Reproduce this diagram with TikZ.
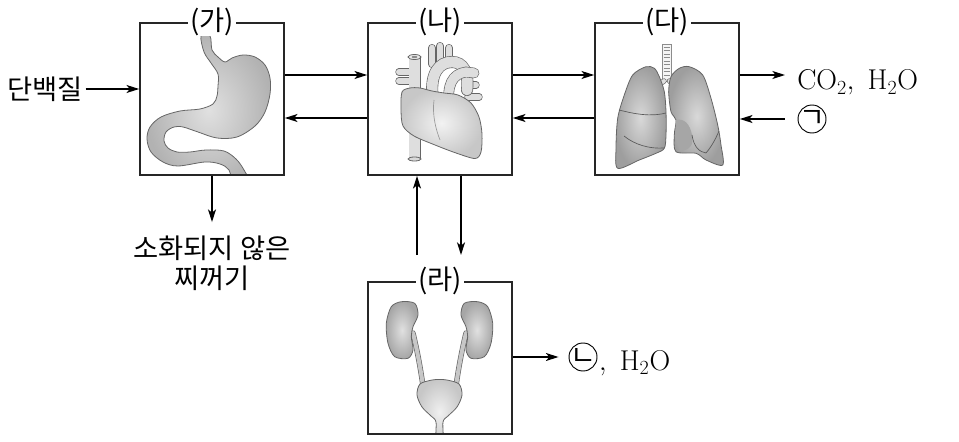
\documentclass[tikz,border=0pt]{standalone}
\usepackage{fontspec}
\newfontfamily\kr{Noto Sans CJK KR}
\usetikzlibrary{arrows.meta}

\tikzset{
  organbox/.style={draw=black!85, line width=1.3pt, minimum width=108pt, minimum height=114.3pt, inner sep=0pt},
  boxlbl/.style={fill=white, inner xsep=2pt, inner ysep=0pt, font=\kr\fontsize{20.5}{22.5}\selectfont},
  txt/.style={inner sep=2pt, font=\kr\fontsize{20.5}{22.5}\selectfont},
  chem/.style={inner sep=0pt, font=\fontsize{21.5}{24}\selectfont},
  circ/.style={draw, circle, line width=0.7pt, minimum size=21pt, inner sep=0pt},
  jamo/.style={inner sep=0pt, font=\kr\fontsize{21}{21}\selectfont},
  arr/.style={line width=1pt, -{Stealth[length=9.5pt,width=6pt,inset=2.5pt]}},
  organ/.style={draw=black!60, line width=0.6pt},
  tube/.style={draw=black!60, line width=0.5pt, double=black!13, double distance=#1, line cap=round}
}

\begin{document}
\begin{tikzpicture}[x=0.75pt,y=0.75pt,yscale=-1,xscale=1]
\useasboundingbox (0,0) rectangle (959,442);

%Shape: Stomach
\begin{scope}
\clip (140,22.7) rectangle (284,175);
\draw[organ, inner color=black!12, outer color=black!30] plot[smooth cycle, tension=0.55] coordinates {
  (201,36) (204,52) (211,63) (218,74) (218,86) (217,96) (213,104) (200,109) (180,111)
  (161,117) (150,127) (147,139) (151,152) (163,162) (178,166) (205,162) (220,164)
  (229,170) (234,184) (250,184) (244,170) (236,159) (224,151) (206,150) (190,152)
  (177,152) (168,148) (164,141) (166,132) (174,127) (183,127) (198,132) (217,138)
  (237,137) (255,126) (265,112) (270,94) (270,78) (265,65) (255,57) (243,55)
  (232,58) (225,62) (218,57) (212,50) (210,36)};
\end{scope}

%Shape: Heart
\draw[tube=4.5pt] (399,72) -- (411,72);
\draw[tube=4.5pt] (399,81) -- (411,81);
\draw[tube=4.5pt] (466,85) -- (476,85);
\draw[tube=4.5pt] (468,97) -- (479,97);
\draw[tube=5pt] (432,64) -- (432,48);
\draw[tube=5pt] (440,62) -- (440,46);
\draw[tube=5pt] (449,64) -- (449,48);
\draw[tube=8pt] (433,100) .. controls (429,72) and (440,62) .. (452,62) .. controls (463,62) and (469,72) .. (467,90);
\draw[tube=8pt, line cap=butt] (414.5,100) -- (414.5,57);
\draw[organ, fill=black!8] (414.5,57) ellipse [x radius=6.5, y radius=2.5];
\fill[black!45] (414.5,57) ellipse [x radius=3, y radius=1.2];
\draw[tube=7pt] (449,106) .. controls (447,85) and (452,74) .. (466,72) -- (474,73);
\draw[tube=8pt, line cap=butt] (414.5,125) -- (414.5,159);
\draw[organ, fill=black!15] (414.5,159) ellipse [x radius=6.5, y radius=2];
\draw[organ, inner color=black!5, outer color=black!22] plot[smooth cycle] coordinates {
  (402,92) (401,110) (403,126) (414,136) (435,145) (456,153) (475,158.5) (481,152)
  (482,134) (479,117) (471,103) (458,95) (444,93) (432,91) (420,88) (410,88)};
\draw[black!40, line width=0.5pt] (434,100) .. controls (432,115) and (436,130) .. (440,140);

%Shape: Lungs
\draw[black!45, line width=0.5pt, fill=black!4] (662.5,44) rectangle (671,81);
\foreach \ty in {47,50.5,...,78} \draw[black!45, line width=0.7pt] (663.5,\ty) -- (670,\ty);
\draw[tube=3pt] (664,81) -- (658,85);
\draw[tube=3pt] (669.5,81) -- (675.5,85);
\draw[organ, inner color=black!15, outer color=black!38] plot[smooth cycle] coordinates {
  (646,66.7) (654.3,68.3) (659.3,76.7) (664.3,91.7) (666,111.7) (666,135) (664.3,148.3)
  (656,153.3) (639.3,160) (617.7,168.3) (616,148.3) (617.7,118.3) (624.3,95) (632.7,75)};
\draw[organ, inner color=black!15, outer color=black!38] plot[smooth cycle] coordinates {
  (679.3,68.3) (689.3,66.7) (702.7,75) (711,98.3) (717.7,125) (721,145) (722.7,165)
  (706,160) (696,153.3) (676,151.7) (674.3,135) (676,120) (671,111.7) (668.7,91.7) (671,76.7)};
\fill[black!35] (676,120) .. controls (684,118) and (690,124) .. (692,135) .. controls (694,145) and (690,150) .. (680,151) .. controls (675,140) and (675,128) .. (676,120);
\draw[black!65, line width=0.5pt] (619,110) .. controls (635,114) and (650,117) .. (666,113);
\draw[black!65, line width=0.5pt] (624,136) .. controls (635,145) and (650,149) .. (664,148);
\draw[black!65, line width=0.5pt] (692,135) .. controls (694,148) and (700,152) .. (706,153) .. controls (712,146) and (716,138) .. (719,131);

%Shape: Kidneys
\begin{scope}
\clip (368,281.7) rectangle (512,434.3);
\draw[tube=3pt, double=black!22] (413,333) .. controls (417,350) and (420,365) .. (423,386);
\draw[tube=3pt, double=black!22] (466,333) .. controls (462,350) and (459,365) .. (456,386);
\draw[organ, inner color=black!12, outer color=black!35] plot[smooth cycle] coordinates {
  (401.3,301.7) (414.7,303.3) (418,315) (413,326.7) (411.3,336.7) (413,350) (408,358.3)
  (394.7,356.7) (388,343.3) (386.3,323.3) (391.3,306.7)};
\draw[organ, inner color=black!12, outer color=black!35] plot[smooth cycle] coordinates {
  (477.7,301.7) (464.3,303.3) (461,315) (466,326.7) (467.7,336.7) (466,350) (471,358.3)
  (484.3,356.7) (491,343.3) (492.7,323.3) (487.7,306.7)};
\draw[organ, inner color=black!6, outer color=black!22] plot[smooth cycle, tension=0.5] coordinates {
  (420,384) (432,380) (439.5,379.5) (447,380) (459,384) (462,395) (457,407) (448,416)
  (443,422) (443,442) (436,442) (436,422) (431,416) (422,407) (417,395)};
\end{scope}

%Shape: Rectangle (boxes)
\node[organbox] (ga) at (212,98.85) {};
\node[organbox] (na) at (440,98.85) {};
\node[organbox] (da) at (667,98.85) {};
\node[organbox] (ra) at (440,358) {};

% Box titles
\node[boxlbl] (gat) at (ga.north) {(가)};
\node[boxlbl] (nat) at (na.north) {(나)};
\node[boxlbl] (dat) at (da.north) {(다)};
\node[boxlbl] (rat) at (ra.north) {(라)};

% Text Node
\node[txt] (dan) at (45,89) {단백질};
\node[txt, align=center, inner ysep=10pt] (sohwa) at (212,263) {소화되지 않은\\[0pt]찌꺼기};
\node[chem, anchor=base west, inner xsep=9pt] (co) at (785,90) {$\mathrm{CO_2,\ H_2O}$};
\node[circ] (gi) at (812,119) {};
\node[jamo] (gik) at (gi) {ㄱ};
\node[circ] (ni) at (583,357) {};
\node[jamo] (nik) at (ni) {ㄴ};
\node[chem, anchor=base west, inner xsep=1pt] (nih) at (ni.east |- 0,370) {$\mathrm{,\ H_2O}$};

%Straight Lines (arrows)
\draw[arr] (dan) -- (ga.west |- dan);
\draw[arr] (ga.east |- 0,75) -- (na.west |- 0,75);
\draw[arr] (na.west |- 0,118) -- (ga.east |- 0,118);
\draw[arr] (na.east |- 0,75) -- (da.west |- 0,75);
\draw[arr] (da.west |- 0,118) -- (na.east |- 0,118);
\draw[arr] (da.east |- 0,75) -- (co.west |- 0,75);
\draw[arr] ([xshift=-9.75pt]gi.west) -- (da.east |- gi);
\draw[arr] (ga.south) -- (sohwa.north);
\coordinate (rtop) at (440,255);
\draw[arr] (rtop -| 417,0) -- (na.south -| 417,0);
\draw[arr] (na.south -| 461,0) -- (rtop -| 461,0);
\draw[arr] (ra.east |- ni) -- ([xshift=-7.5pt]ni.west);

\end{tikzpicture}
\end{document}
